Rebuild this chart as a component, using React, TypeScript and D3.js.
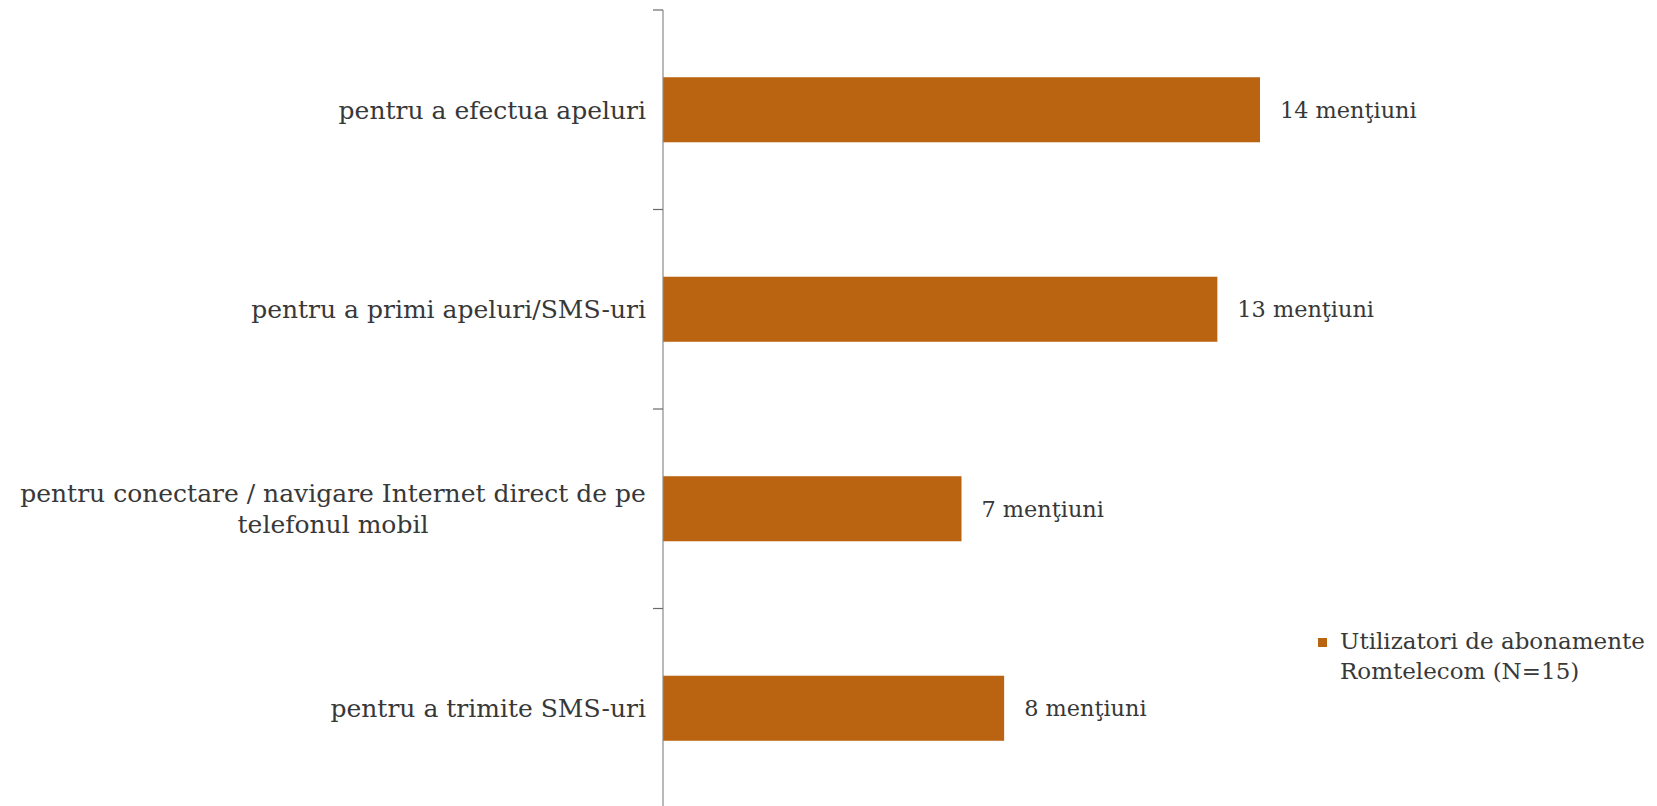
import React from "react";
import * as d3 from "d3";

const categories: string[][] = [
  ["pentru a efectua apeluri"],
  ["pentru a primi apeluri/SMS-uri"],
  ["pentru conectare / navigare Internet direct de pe", "telefonul mobil"],
  ["pentru a trimite SMS-uri"],
];
const values: number[] = [14, 13, 7, 8];
const valueLabels: string[] = ["14 menţiuni", "13 menţiuni", "7 menţiuni", "8 menţiuni"];
const legendLines: string[] = ["Utilizatori de abonamente", "Romtelecom (N=15)"];

const W = 1657;
const H = 806;
const axisX = 663;
const FONT = "'DejaVu Serif', serif";
const BAR = "#BA6311";
const TEXT = "#383838";

export default function App() {
  const keys = categories.map((c, i) => String(i));
  const yBand = d3.scaleBand<string>().domain(keys).range([10, 808]).paddingInner(0.674).paddingOuter(0.337);
  const yTicks = d3.scaleBand<string>().domain(keys).range([10, 808]).padding(0);
  const x = d3.scaleLinear().domain([0, 14]).range([axisX, 1260]);

  const tickYs = keys.map((k) => yTicks(k) as number).concat([808]);

  return (
    <svg width={W} height={H} style={{ position: "absolute", left: 0, top: 0, background: "#fff" }}>
      {keys.map((k, i) => {
        const y0 = yBand(k) as number;
        const bw = yBand.bandwidth();
        return (
          <rect key={"b" + k} x={x(0)} y={y0} width={x(values[i]) - x(0)} height={bw} fill={BAR} />
        );
      })}
      <line x1={axisX} x2={axisX} y1={10} y2={808} stroke="#8a8a8a" strokeWidth={1.2} />
      {tickYs.map((ty, i) => (
        <line key={"t" + i} x1={axisX - 10} x2={axisX} y1={ty} y2={ty} stroke="#6a6a6a" strokeWidth={1.2} />
      ))}
      {keys.map((k, i) => {
        const cy = (yBand(k) as number) + yBand.bandwidth() / 2;
        const lines = categories[i];
        const lh = 31;
        if (lines.length === 1) {
          return (
            <text key={"c" + k} x={646} y={cy} dy="0.35em" textAnchor="end" fontFamily={FONT} fontSize={25} fill={TEXT}>
              {lines[0]}
            </text>
          );
        }
        return (
          <text key={"c" + k} x={333} textAnchor="middle" fontFamily={FONT} fontSize={25} fill={TEXT}>
            {lines.map((l, j) => (
              <tspan key={j} x={333} y={cy + (j - (lines.length - 1) / 2) * lh} dy="0.35em">
                {l}
              </tspan>
            ))}
          </text>
        );
      })}
      {keys.map((k, i) => {
        const cy = (yBand(k) as number) + yBand.bandwidth() / 2;
        return (
          <text key={"v" + k} x={x(values[i]) + 20} y={cy} dy="0.35em" fontFamily={FONT} fontSize={22.4} fill={TEXT}>
            {valueLabels[i]}
          </text>
        );
      })}
      <rect x={1318} y={638} width={9} height={9} fill={BAR} />
      <text fontFamily={FONT} fontSize={23} fill={TEXT}>
        {legendLines.map((l, j) => (
          <tspan key={j} x={1340} y={649 + j * 30}>
            {l}
          </tspan>
        ))}
      </text>
    </svg>
  );
}
